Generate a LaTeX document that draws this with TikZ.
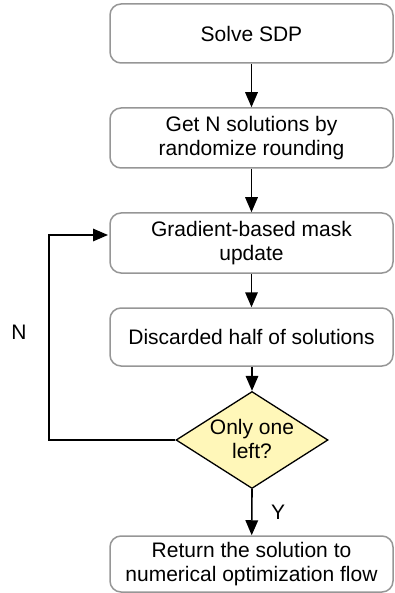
\documentclass[tikz,border=0pt]{standalone}
\usepackage{fontspec}
\setmainfont{Liberation Sans}
\usetikzlibrary{arrows.meta,shapes.geometric}
\definecolor{boxline}{RGB}{150,150,150}
\definecolor{decisionfill}{RGB}{255,247,185}
\begin{document}
\begin{tikzpicture}[x=1pt,y=-1pt,
  every node/.style={font=\fontsize{21}{24}\selectfont},
  procbox/.style={draw=boxline,line width=1.5pt,rounded corners=11pt,
    minimum width=283pt,align=center,inner sep=0pt},
  decision/.style={diamond,draw=black,fill=decisionfill,line width=1.3pt,
    minimum width=152pt,minimum height=97pt,inner sep=0pt},
  flow/.style={line width=1.6pt,-{Triangle[length=15pt,width=12.5pt]}},
  plain/.style={inner sep=0pt}]
\useasboundingbox (0,0) rectangle (394,593);

\node[procbox,minimum height=59pt] (solve) at (251.5,33.5) {Solve SDP};
\node[procbox,minimum height=60pt] (getn) at (251.5,138) {Get N solutions by\\randomize rounding};
\node[procbox,minimum height=60pt] (grad) at (251.5,243) {Gradient-based mask\\update};
\node[procbox,minimum height=58pt] (disc) at (251.5,337) {Discarded half of solutions};
\node[decision] (only) at (252,440) {};
\node[plain,align=center] (onlytext) at (252,438.5) {Only one\\left?};
\node[procbox,minimum height=56pt] (ret) at (251.5,564) {Return the solution to\\numerical optimization flow};

\coordinate (loopbot) at (49,440);
\coordinate (looptop) at (49,235);
\coordinate (gradin) at (108,235);

\draw[flow] (solve) -- (getn);
\draw[flow] (getn) -- (grad);
\draw[flow] (grad) -- (disc);
\draw[flow] (disc.south -| only.north) -- (only.north);
\draw[flow] (only.south) -- (ret);
\draw[flow] (only.west) -- (loopbot) -- (looptop) -- (gradin);

\node[plain] (nlabel) at (19,332) {N};
\node[plain] (ylabel) at (278,512) {Y};
\end{tikzpicture}
\end{document}
